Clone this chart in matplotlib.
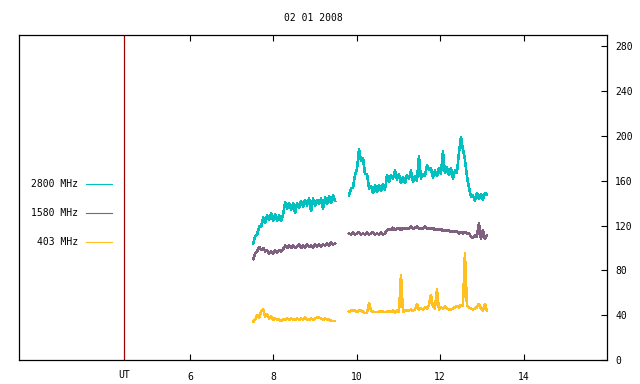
"""Radio flux plot, 02 01 2008"""

import numpy as np
from matplotlib import pyplot as plt
from matplotlib.lines import Line2D

# Time spans of the two recorded blocks (hours UT)
seg1_span = (7.515, 9.479)
seg2_span = (9.814, 13.12)

# 2800 MHz
f2800_seg1 = [104, 110, 112, 119, 119, 127, 122, 129, 125, 131, 124, 130, 124, 129,
              124, 130, 141, 135, 140, 134, 140, 131, 140, 136, 142, 137, 143, 138,
              144, 133, 144, 138, 143, 139, 144, 135, 145, 139, 146, 140, 147, 142]
f2800_seg2 = [147, 153, 154, 165, 171, 188, 178, 180, 166, 166, 153, 155, 149, 156,
              150, 156, 151, 157, 152, 165, 159, 165, 162, 169, 161, 166, 158, 163,
              158, 165, 162, 169, 159, 164, 160, 182, 162, 166, 164, 174, 170, 171,
              163, 169, 164, 171, 166, 186, 167, 172, 165, 171, 162, 169, 167, 185,
              199, 188, 179, 164, 154, 146, 147, 142, 149, 144, 148, 143, 149, 148]

# 1580 MHz
f1580_seg1 = [90, 95, 97, 101, 98, 100, 97, 98, 95, 97, 95, 98, 96, 98,
              97, 99, 102, 100, 102, 100, 102, 100, 101, 103, 100, 102, 100, 103,
              101, 102, 100, 103, 101, 103, 101, 103, 102, 104, 102, 105, 103, 104]
f1580_seg2 = [113, 112, 114, 112, 113, 114, 112, 113, 112, 114, 112, 113, 114, 112,
              113, 112, 114, 112, 113, 116, 117, 116, 118, 116, 117, 118, 116, 118,
              117, 118, 117, 119, 117, 118, 119, 117, 118, 117, 119, 117, 118, 117,
              118, 116, 117, 116, 117, 115, 116, 115, 116, 114, 115, 114, 115, 113,
              114, 113, 114, 113, 113, 110, 109, 111, 110, 122, 108, 116, 108, 111]

# 403 MHz
f403_seg1 = [34, 36, 40, 38, 43, 45, 39, 41, 37, 39, 36, 37, 36, 36,
             35, 36, 36, 37, 36, 37, 36, 36, 37, 36, 37, 36, 38, 36,
             36, 37, 36, 37, 38, 38, 37, 36, 37, 36, 36, 35, 35, 35]
f403_seg2 = [43, 44, 44, 44, 43, 44, 44, 43, 42, 42, 51, 44, 43, 43,
             43, 43, 44, 43, 43, 43, 44, 43, 44, 42, 44, 43, 76, 43,
             44, 44, 44, 45, 44, 45, 50, 45, 46, 45, 47, 46, 49, 58,
             48, 46, 63, 45, 47, 46, 48, 46, 45, 45, 46, 47, 48, 47,
             49, 48, 95, 49, 47, 46, 45, 46, 47, 50, 46, 44, 50, 44]

series = [
    ("2800 MHz", "#00c0c0", f2800_seg1, f2800_seg2),
    ("1580 MHz", "#806080", f1580_seg1, f1580_seg2),
    ("403 MHz", "#ffc020", f403_seg1, f403_seg2),
]

xticks = [6, 8, 10, 12, 14]
yticks = [0, 40, 80, 120, 160, 200, 240, 280]
ut_pos = 4.42

plt.rcParams['font.family'] = ['DejaVu Sans Mono']
plt.rcParams['font.size'] = 7

fig = plt.figure(figsize=(6.4, 3.84), dpi=100)
ax = fig.add_axes([19 / 640, 24 / 384, 588 / 640, 325 / 384])

for name, color, s1, s2 in series:
    for span, vals in ((seg1_span, s1), (seg2_span, s2)):
        t = np.linspace(span[0], span[1], len(vals))
        ax.plot(t, vals, color=color, lw=1.1, antialiased=False)

ax.axvline(ut_pos, color="#a00000", lw=0.9)

ax.set_xlim(1.9, 16.0)
ax.set_ylim(0, 290)

ax.set_xticks(xticks)
ax.set_xticklabels([str(v) for v in xticks])
ax.tick_params(axis="x", direction="in", length=4, top=True, bottom=True, pad=9)
ax.text(ut_pos, -0.045, "UT", transform=ax.get_xaxis_transform(),
        ha="center", va="center")

ax.yaxis.tick_right()
ax.set_yticks(yticks)
ax.tick_params(axis="y", direction="in", length=4, left=False, right=True, pad=6)

for sp in ax.spines.values():
    sp.set_linewidth(0.9)

fig.text(313 / 640, 1 - 18 / 384, "02 01 2008", ha="center", va="center")

# legend on the left side
for i, (name, color, _, _) in enumerate(series):
    yy = 1 - (184 + 29 * i) / 384
    fig.text(78 / 640, yy, name, ha="right", va="center")
    fig.add_artist(Line2D([86 / 640, 112 / 640], [yy, yy], color=color, lw=0.8))

fig.savefig("out.png", dpi=100)
